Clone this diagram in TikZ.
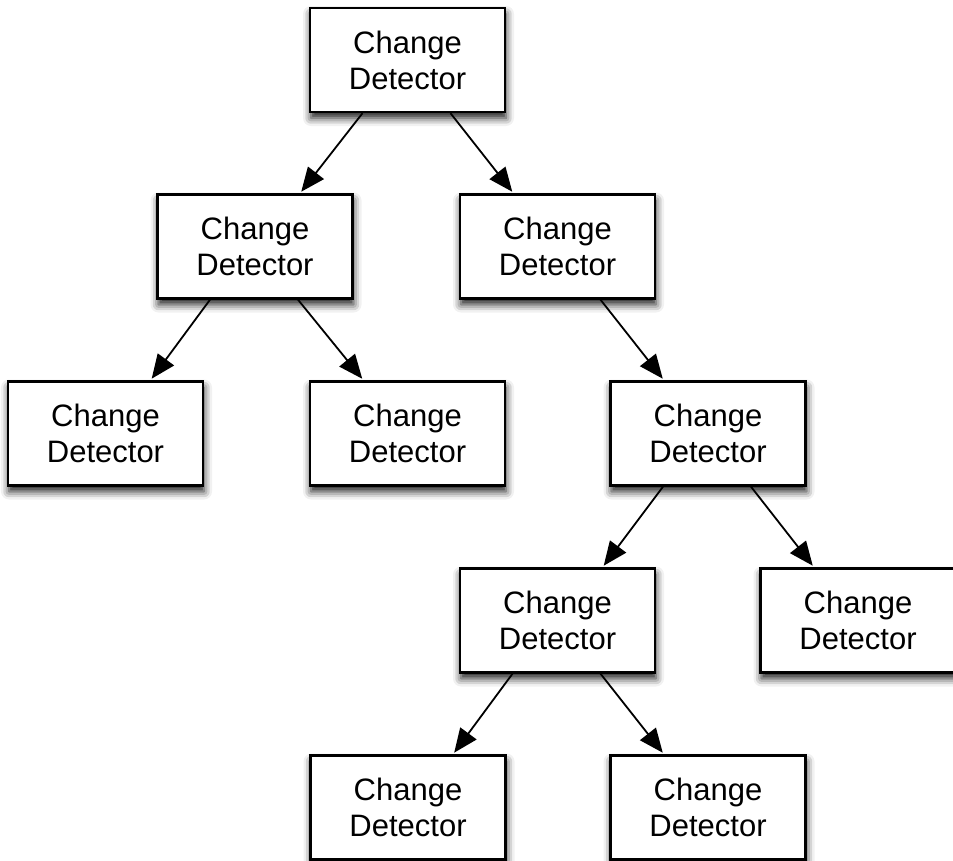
\documentclass[tikz,border=0pt]{standalone}
\usepackage{fontspec}
\setmainfont{Liberation Sans}
\usetikzlibrary{arrows.meta,shadows.blur}
\begin{document}
\begin{tikzpicture}[x=1pt,y=-1pt,
  cdbox/.style={draw=black,line width=2.4pt,fill=white,minimum width=195pt,minimum height=104pt,
    inner sep=0pt,align=center,font=\fontsize{31}{36}\selectfont,
    blur shadow={shadow xshift=1pt,shadow yshift=-6pt,shadow blur radius=8pt,shadow opacity=90}},
  cdtip/.tip={Triangle[length=24pt,width=20pt]},
  cdarrow/.style={line width=1.8pt,-cdtip,shorten >=2pt}]
\useasboundingbox (0,0) rectangle (953,860);
\node[cdbox] (b1) at (407.5,60) {Change\\Detector};
\node[cdbox] (b2) at (255,246.5) {Change\\Detector};
\node[cdbox] (b3) at (557.5,246.5) {Change\\Detector};
\node[cdbox] (b4) at (105.5,433.5) {Change\\Detector};
\node[cdbox] (b5) at (407.5,433.5) {Change\\Detector};
\node[cdbox] (b6) at (708,433.5) {Change\\Detector};
\node[cdbox] (b7) at (557.5,620.5) {Change\\Detector};
\node[cdbox] (b8) at (858,620.5) {Change\\Detector};
\node[cdbox] (b9) at (408,807.5) {Change\\Detector};
\node[cdbox] (b10) at (708,807.5) {Change\\Detector};
\draw[cdarrow] ([xshift=-45pt]b1.south) -- ([xshift=45pt]b2.north);
\draw[cdarrow] ([xshift=43pt]b1.south) -- ([xshift=-44pt]b3.north);
\draw[cdarrow] ([xshift=-45pt]b2.south) -- ([xshift=45pt]b4.north);
\draw[cdarrow] ([xshift=43pt]b2.south) -- ([xshift=-44pt]b5.north);
\draw[cdarrow] ([xshift=43pt]b3.south) -- ([xshift=-44pt]b6.north);
\draw[cdarrow] ([xshift=-45pt]b6.south) -- ([xshift=45pt]b7.north);
\draw[cdarrow] ([xshift=43pt]b6.south) -- ([xshift=-44pt]b8.north);
\draw[cdarrow] ([xshift=-45pt]b7.south) -- ([xshift=45pt]b9.north);
\draw[cdarrow] ([xshift=43pt]b7.south) -- ([xshift=-44pt]b10.north);
\end{tikzpicture}
\end{document}
